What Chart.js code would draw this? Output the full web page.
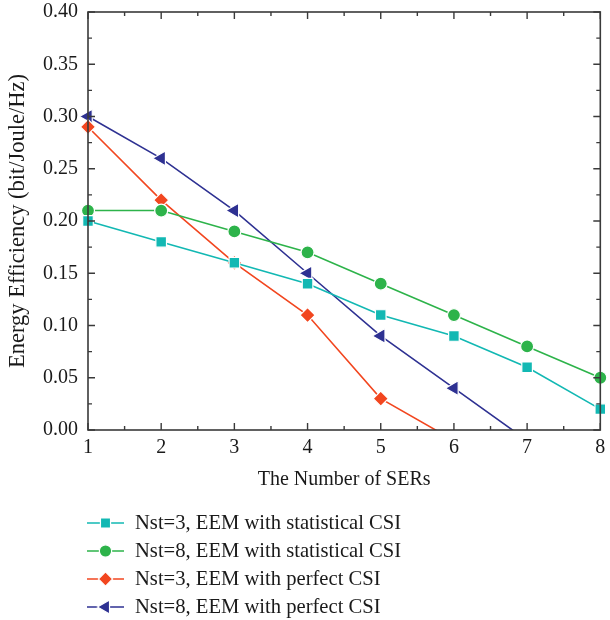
<!DOCTYPE html>
<html>
<head>
<meta charset="utf-8">
<script src="https://cdn.jsdelivr.net/npm/chart.js@4/dist/chart.umd.min.js"></script>
<style>
html,body{margin:0;padding:0;background:#fff;}
#wrap{width:610px;height:620px;}
</style>
</head>
<body>
<div id="wrap"><canvas id="c" width="610" height="620"></canvas></div>
<script>
const xValues = [1, 2, 3, 4, 5, 6, 7, 8];
const nst3Statistical = [0.20, 0.18, 0.16, 0.14, 0.11, 0.09, 0.06, 0.02];
const nst8Statistical = [0.21, 0.21, 0.19, 0.17, 0.14, 0.11, 0.08, 0.05];
const nst3Perfect = [0.29, 0.22, 0.16, 0.11, 0.03, -0.01];
const nst8Perfect = [0.30, 0.26, 0.21, 0.15, 0.09, 0.04, -0.01];
const seriesLabels = [
  'Nst=3, EEM with statistical CSI',
  'Nst=8, EEM with statistical CSI',
  'Nst=3, EEM with perfect CSI',
  'Nst=8, EEM with perfect CSI'
];
const xTitle = 'The Number of SERs';
const yTitle = 'Energy Efficiency (bit/Joule/Hz)';

const FONT = '"Liberation Serif", "DejaVu Serif", serif';
const colors = ['#12b8b3', '#2db34a', '#f2461f', '#2e3192'];
const styles = [
  {pointStyle: 'rect', radius: 7.5, rotation: 0},
  {pointStyle: 'circle', radius: 6.5, rotation: 0},
  {pointStyle: 'rectRot', radius: 7.5, rotation: 0},
  {pointStyle: 'triangle', radius: 8.5, rotation: -90}
];
const seriesData = [nst3Statistical, nst8Statistical, nst3Perfect, nst8Perfect];

const datasets = seriesData.map((vals, i) => ({
  label: seriesLabels[i],
  data: vals.map((v, j) => ({x: xValues[j], y: v})),
  borderColor: colors[i],
  backgroundColor: colors[i],
  borderWidth: 1.6,
  pointStyle: styles[i].pointStyle,
  pointRadius: styles[i].radius,
  pointHoverRadius: styles[i].radius,
  pointRotation: styles[i].rotation,
  pointBackgroundColor: colors[i],
  pointBorderColor: '#ffffff',
  pointBorderWidth: 1.2,
  tension: 0,
  clip: {left: 12, right: 12, top: 12, bottom: 0}
}));

function drawMarker(ctx, style, color, x, y) {
  ctx.save();
  ctx.translate(x, y);
  ctx.rotate(style.rotation * Math.PI / 180);
  ctx.fillStyle = color;
  ctx.strokeStyle = '#ffffff';
  ctx.lineWidth = 1.2;
  ctx.beginPath();
  const r = style.radius;
  if (style.pointStyle === 'rect') {
    const s = r * Math.SQRT2;
    ctx.rect(-s / 2, -s / 2, s, s);
  } else if (style.pointStyle === 'circle') {
    ctx.arc(0, 0, r, 0, Math.PI * 2);
  } else if (style.pointStyle === 'rectRot') {
    ctx.moveTo(0, -r); ctx.lineTo(r, 0); ctx.lineTo(0, r); ctx.lineTo(-r, 0); ctx.closePath();
  } else if (style.pointStyle === 'triangle') {
    const edge = 3 * r / Math.sqrt(3);
    const h = edge * Math.sqrt(3) / 2;
    ctx.moveTo(0, -h * 2 / 3);
    ctx.lineTo(edge / 2, h / 3);
    ctx.lineTo(-edge / 2, h / 3);
    ctx.closePath();
  }
  ctx.fill();
  ctx.stroke();
  ctx.restore();
}

const framePlugin = {
  id: 'frame',
  afterDatasetsDraw(chart) {
    const ctx = chart.ctx;
    const a = chart.chartArea;
    const xs = chart.scales.x, ys = chart.scales.y;
    ctx.save();
    ctx.strokeStyle = '#3a3a3a';
    ctx.lineWidth = 1.6;
    ctx.strokeRect(a.left, a.top, a.right - a.left, a.bottom - a.top);
    ctx.lineWidth = 1.4;
    ctx.beginPath();
    for (let v = xs.min; v <= xs.max + 1e-9; v += 0.5) {
      const px = xs.getPixelForValue(v);
      const len = Math.abs(v - Math.round(v)) < 1e-9 ? 7 : 4;
      ctx.moveTo(px, a.bottom); ctx.lineTo(px, a.bottom - len);
      ctx.moveTo(px, a.top); ctx.lineTo(px, a.top + len);
    }
    for (let k = 0; k <= 16; k++) {
      const v = k * 0.025;
      const py = ys.getPixelForValue(v);
      const len = k % 2 === 0 ? 7 : 4;
      ctx.moveTo(a.left, py); ctx.lineTo(a.left + len, py);
      ctx.moveTo(a.right, py); ctx.lineTo(a.right - len, py);
    }
    ctx.stroke();
    ctx.restore();
  },
  afterDraw(chart) {
    const ctx = chart.ctx;
    ctx.save();
    const rows = [523, 551, 579, 607];
    chart.data.datasets.forEach((ds, i) => {
      const y = rows[i];
      ctx.strokeStyle = ds.borderColor;
      ctx.lineWidth = 1.6;
      ctx.beginPath();
      ctx.moveTo(87, y); ctx.lineTo(124, y);
      ctx.stroke();
      const st = Object.assign({}, styles[i], {radius: styles[i].radius * 0.95});
      drawMarker(ctx, st, ds.borderColor, 105.5, y);
      ctx.fillStyle = '#1a1a1a';
      ctx.font = '20.6px ' + FONT;
      ctx.textBaseline = 'middle';
      ctx.textAlign = 'left';
      ctx.fillText(ds.label, 135, y + 1);
    });
    ctx.restore();
  }
};

new Chart(document.getElementById('c'), {
  type: 'line',
  data: {datasets},
  options: {
    responsive: false,
    animation: false,
    devicePixelRatio: 1,
    layout: {padding: {left: 5, right: 5, top: 12, bottom: 128}},
    plugins: {legend: {display: false}, tooltip: {enabled: false}},
    scales: {
      x: {
        type: 'linear', min: 1, max: 8,
        grid: {display: false, drawTicks: false},
        border: {display: false},
        ticks: {stepSize: 1, padding: 6, color: '#1a1a1a', font: {family: FONT, size: 20}, maxRotation: 0},
        title: {display: true, text: xTitle, color: '#1a1a1a', font: {family: FONT, size: 20}, padding: 0},
        afterFit(s) { s.height = 62; s.paddingLeft = 0; s.paddingRight = 0; }
      },
      y: {
        type: 'linear', min: 0, max: 0.4,
        grid: {display: false, drawTicks: false},
        border: {display: false},
        ticks: {stepSize: 0.05, padding: 10, color: '#1a1a1a', font: {family: FONT, size: 20},
          callback: v => Number(v).toFixed(2)},
        title: {display: true, text: yTitle, color: '#1a1a1a', font: {family: FONT, size: 22.5}, padding: 0},
        afterFit(s) { s.width = 83; s.paddingTop = 0; s.paddingBottom = 0; }
      }
    }
  },
  plugins: [framePlugin]
});
</script>
</body>
</html>
